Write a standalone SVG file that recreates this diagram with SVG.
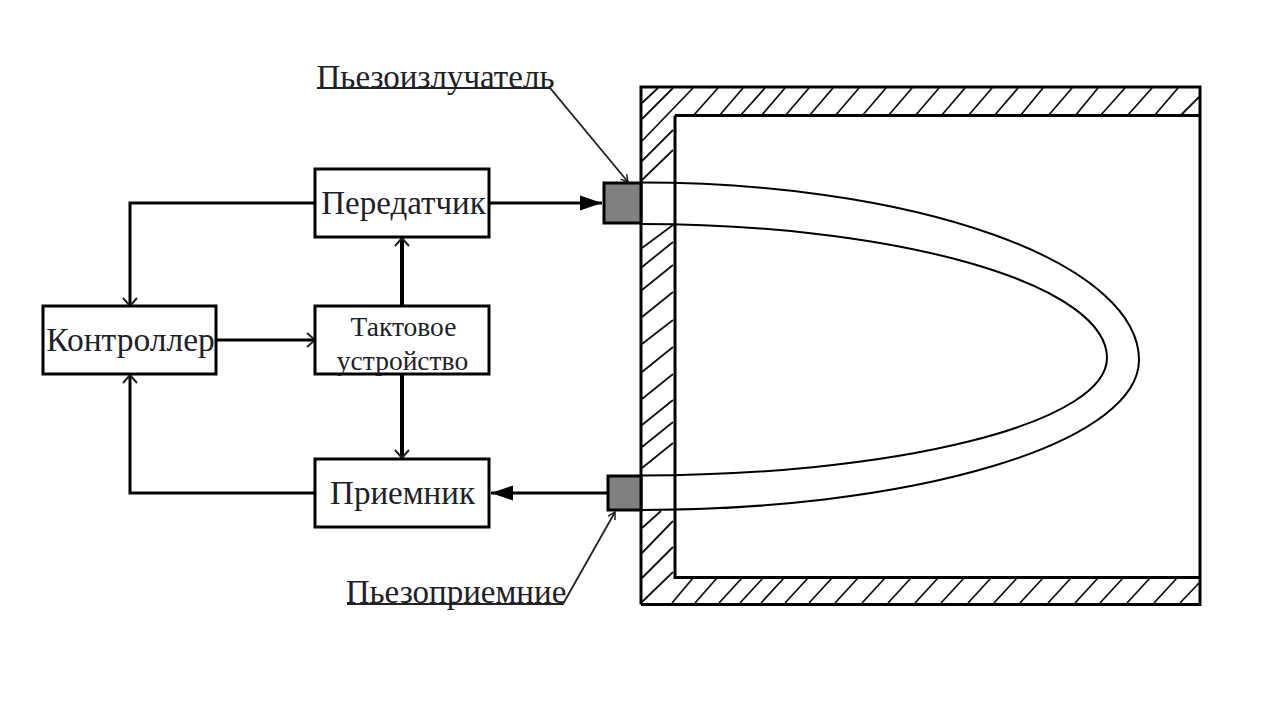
<svg xmlns="http://www.w3.org/2000/svg" width="1280" height="720" viewBox="0 0 1280 720">
<style>
.b{fill:#fff;stroke:#000;stroke-width:3}
.t{font-family:"Liberation Serif","Times New Roman",serif;fill:#1c2228;text-anchor:middle}
.c{fill:none;stroke:#000;stroke-width:3}
.h{fill:none;stroke:#000;stroke-width:4}
.l{fill:none;stroke:#222;stroke-width:1.800}
.s{fill:#808080;stroke:#000;stroke-width:3}
.w{fill:none;stroke:#000;stroke-width:2}
.x{fill:none;stroke:#111;stroke-width:1.800}
</style>
<defs>
<marker id="open" markerUnits="userSpaceOnUse" markerWidth="20" markerHeight="20" refX="14" refY="10" orient="auto"><path d="M6 3L14 10L6 17" fill="none" stroke="#222" stroke-width="2"/></marker>
<marker id="solid" markerUnits="userSpaceOnUse" markerWidth="24" markerHeight="20" refX="22" refY="10" orient="auto"><path d="M0 2.500L22 10L0 17.500Z" fill="#000"/></marker>
<marker id="tiny" markerUnits="userSpaceOnUse" markerWidth="12" markerHeight="12" refX="10" refY="6" orient="auto"><path d="M3 2L10 6L3 10" fill="none" stroke="#222" stroke-width="1.500"/></marker>
</defs>
<rect width="1280" height="720" fill="#fff"/>
<g id="housing">
<path class="x" d="M642 103L658 88M642 119L673 88M642 141L693 88M642 161L673 130M642 180L673 150
M693 116L718 88M719 116L743 88M740 116L765 88M761 116L785 88M785 116L809 88M809 116L833 88M835 116L859 88M862 116L886 88M888 116L912 88M915 116L939 88M941 116L965 88M968 116L992 88M994 116L1018 88M1020 116L1043 88M1048 116L1072 88M1075 116L1098 88M1100 116L1125 88M1127 116L1152 88M1154 116L1178 88M1180 116L1199 97
M642 248L673 225M642 267L673 242M642 290L673 265M642 317L673 292M642 344L673 320M642 372L673 347M642 399L673 374M642 425L673 400M642 447L673 422M642 468L673 443
M642 528L661 511M642 553L673 521M642 578L673 547M642 602L673 572
M672 603L693 578M695 603L717 578M719 603L742 578M740 603L763 578M761 603L784 578M785 603L808 578M809 603L832 578M835 603L858 578M862 603L885 578M888 603L911 578M915 603L938 578M941 603L964 578M968 603L991 578M994 603L1017 578M1020 603L1043 578M1048 603L1071 578M1075 603L1098 578M1100 603L1123 578M1127 603L1150 578M1154 603L1177 578M1180 603L1199 583"/>
<path d="M641 604.500V87H1200V604.500H641M675 115.500H1200M675 115.500V577.500H1200" fill="none" stroke="#000" stroke-width="3"/>
</g>
<g id="waveguide">
<path class="w" d="M641 182.500A498 177.500 0 0 1 1139 360A498 150 0 0 1 641 510"/>
<path class="w" d="M641 224A466 134 0 0 1 1107 358A466 117.500 0 0 1 641 475.500"/>
</g>
<g id="connectors">
<path class="c" d="M315 203H130V306" marker-end="url(#open)"/>
<path class="c" d="M315 493H130V375" marker-end="url(#open)"/>
<path class="c" d="M216 340H315" marker-end="url(#open)"/>
<path class="h" d="M402 305V238" marker-end="url(#open)"/>
<path class="h" d="M402 374V458" marker-end="url(#open)"/>
<path class="c" d="M490 203H602" marker-end="url(#solid)"/>
<path class="c" d="M607 493H491" marker-end="url(#solid)"/>
<path class="l" d="M317 88H550L628 182" marker-end="url(#tiny)"/>
<path class="l" d="M347 604H563L615 512" marker-end="url(#tiny)"/>
</g>
<g id="piezo-emitter"><rect class="s" x="604" y="183" width="37" height="40"/></g>
<g id="piezo-receiver"><rect class="s" x="608" y="476" width="33" height="34"/></g>
<g id="transmitter"><rect class="b" x="315" y="169" width="174" height="68"/><text class="t" x="403.500" y="214" font-size="33">Передатчик</text></g>
<g id="controller"><rect class="b" x="43" y="306" width="173" height="68"/><text class="t" x="130.500" y="351" font-size="33.500">Контроллер</text></g>
<g id="clock"><rect class="b" x="315" y="306" width="174" height="68"/><text class="t" x="403.500" y="336" font-size="27.500">Тактовое</text><text class="t" x="402.500" y="370" font-size="27.500">устройство</text></g>
<g id="receiver"><rect class="b" x="315" y="459" width="174" height="68"/><text class="t" x="402.500" y="504" font-size="33">Приемник</text></g>
<g id="label-emitter"><text class="t" x="435.500" y="88" font-size="33">Пьезоизлучатель</text></g>
<g id="label-receiver"><text class="t" x="456" y="603" font-size="33">Пьезоприемние</text></g>
</svg>
